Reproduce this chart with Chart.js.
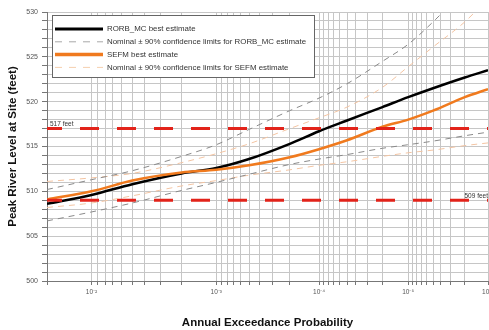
<!DOCTYPE html>
<html>
<head>
<meta charset="utf-8">
<script src="https://cdn.jsdelivr.net/npm/chart.js@4.4.1/dist/chart.umd.min.js"></script>
<style>
  html, body { margin: 0; padding: 0; background: #fff; }
</style>
</head>
<body>
<canvas id="chartAep" width="489" height="330"></canvas>
<script>
// annual exceedance probabilities where the curves were read
const aep = [0.02, 0.01, 0.005, 0.002, 0.001, 5e-4, 2e-4, 1e-4, 5e-5, 2e-5, 1e-5, 5e-6, 2e-6, 1e-6];

// peak river level (feet)
const rorbBest  = [508.6, 509.6, 510.8, 512.0, 512.6, 513.6, 515.3, 516.7, 517.9, 519.4, 520.5, 521.5, 522.7, 523.5];
const rorbUpper = [510.2, 511.3, 512.3, 513.9, 515.2, 516.9, 519.0, 520.4, 522.0, 524.5, 526.4, 528.9, 532.5, 535.0];
const rorbLower = [506.7, 507.7, 508.7, 510.1, 511.0, 511.9, 513.0, 513.6, 514.1, 514.8, 515.2, 515.6, 516.2, 516.6];
const sefmBest  = [509.1, 510.0, 511.2, 512.1, 512.4, 512.9, 513.8, 514.7, 515.7, 517.2, 518.0, 519.0, 520.5, 521.4];
const sefmUpper = [511.1, 511.5, 512.0, 513.2, 514.2, 515.3, 517.0, 518.2, 519.4, 521.6, 523.9, 526.1, 528.9, 531.5];
const sefmLower = [508.2, 508.7, 509.5, 510.6, 511.2, 511.8, 512.4, 512.9, 513.3, 513.9, 514.3, 514.6, 515.1, 515.4];

const refLevels = [517, 509];
const refLabels = ['517 feet', '509 feet'];

const decades = [1e-2, 1e-3, 1e-4, 1e-5, 1e-6];
const decadeLabels = ['10\u207B\u00B2', '10\u207B\u00B3', '10\u207B\u2074', '10\u207B\u2075', '10\u207B\u2076'];
const minorSteps = [9, 8, 7, 6, 5, 4, 3, 2];

const legendItems = [
  { text: 'RORB_MC best estimate', color: '#000000', width: 3, dash: [] },
  { text: 'Nominal \u00B1 90% confidence limits for RORB_MC estimate', color: '#a8a8a8', width: 1, dash: [7, 7] },
  { text: 'SEFM best estimate', color: '#f07a1e', width: 3.5, dash: [] },
  { text: 'Nominal \u00B1 90% confidence limits for SEFM estimate', color: '#f5cfae', width: 1, dash: [7, 7] }
];

// normal probability paper: position follows the standard normal quantile
function invNorm(p) {
  const c = [-7.784894002430293e-03, -3.223964580411365e-01, -2.400758277161838e+00,
             -2.549732539343734e+00, 4.374664141464968e+00, 2.938163982698783e+00];
  const d = [7.784695709041462e-03, 3.224671290700398e-01, 2.445134137142996e+00, 3.754408661907416e+00];
  const q = Math.sqrt(-2 * Math.log(p));
  return (((((c[0]*q+c[1])*q+c[2])*q+c[3])*q+c[4])*q+c[5]) / ((((d[0]*q+d[1])*q+d[2])*q+d[3])*q+1);
}
const upperZ = p => -invNorm(p);

class ProbabilityScale extends Chart.Scale {
  static id = 'probability';
  static defaults = {};

  determineDataLimits() {
    this.min = this.options.min;
    this.max = this.options.max;
  }
  buildTicks() {
    const ticks = [{ value: this.min }];
    decades.forEach((d, i) => {
      ticks.push({ value: d, major: true });
      if (i < decades.length - 1) minorSteps.forEach(m => ticks.push({ value: m * d / 10 }));
    });
    return ticks;
  }
  configure() {
    super.configure();
    this._zStart = upperZ(this.min);
    this._zEnd = upperZ(this.max);
  }
  getLabelForValue(v) { return String(v); }
  getPixelForValue(v) {
    return this.getPixelForDecimal((upperZ(v) - this._zStart) / (this._zEnd - this._zStart));
  }
  getValueForPixel(px) {
    const z = this._zStart + this.getDecimalForPixel(px) * (this._zEnd - this._zStart);
    let lo = -8, hi = 0;
    for (let i = 0; i < 50; i++) {
      const mid = (lo + hi) / 2;
      if (upperZ(Math.pow(10, mid)) > z) lo = mid; else hi = mid;
    }
    return Math.pow(10, (lo + hi) / 2);
  }
}
Chart.register(ProbabilityScale);

const pts = ys => aep.map((p, i) => ({ x: p, y: ys[i] }));
const flat = y => [{ x: aep[0], y }, { x: aep[aep.length - 1], y }];

const legendBox = {
  id: 'legendBox',
  afterDatasetsDraw(chart) {
    const ctx = chart.ctx;
    ctx.save();
    ctx.fillStyle = '#ffffff';
    ctx.fillRect(52.5, 15.5, 262, 62);
    ctx.strokeStyle = '#666';
    ctx.lineWidth = 1;
    ctx.strokeRect(52.5, 15.5, 262, 62);
    ctx.font = '7.9px "Liberation Sans", Arial, sans-serif';
    ctx.textBaseline = 'middle';
    legendItems.forEach((it, i) => {
      const y = 29 + i * 12.8;
      ctx.beginPath();
      ctx.setLineDash(it.dash);
      ctx.strokeStyle = it.color;
      ctx.lineWidth = it.width;
      ctx.moveTo(55, y);
      ctx.lineTo(103, y);
      ctx.stroke();
      ctx.setLineDash([]);
      ctx.fillStyle = '#333';
      ctx.fillText(it.text, 107, y);
    });
    ctx.restore();
  }
};

const refText = {
  id: 'refText',
  afterDatasetsDraw(chart) {
    const ctx = chart.ctx;
    const yS = chart.scales.y;
    ctx.save();
    ctx.font = '6.5px "Liberation Sans", Arial, sans-serif';
    ctx.fillStyle = '#333';
    ctx.textBaseline = 'bottom';
    ctx.textAlign = 'left';
    ctx.fillText(refLabels[0], 50, yS.getPixelForValue(refLevels[0]) - 1);
    ctx.textAlign = 'right';
    ctx.fillText(refLabels[1], 488, yS.getPixelForValue(refLevels[1]) - 1);
    ctx.restore();
  }
};

const ctx = document.getElementById('chartAep').getContext('2d');
new Chart(ctx, {
  type: 'line',
  data: {
    datasets: [
      { data: pts(rorbUpper), borderColor: '#8a8a8a', borderWidth: 1, borderDash: [6, 5] },
      { data: pts(rorbLower), borderColor: '#8a8a8a', borderWidth: 1, borderDash: [6, 5] },
      { data: pts(sefmUpper), borderColor: '#f3c4a2', borderWidth: 1, borderDash: [6, 5] },
      { data: pts(sefmLower), borderColor: '#f3c4a2', borderWidth: 1, borderDash: [6, 5] },
      { data: flat(refLevels[0]), borderColor: '#e2231a', borderWidth: 3, borderDash: [19, 18], borderDashOffset: 4 },
      { data: flat(refLevels[1]), borderColor: '#e2231a', borderWidth: 3, borderDash: [19, 18], borderDashOffset: 4 },
      { data: pts(sefmBest), borderColor: '#f07a1e', borderWidth: 2.5 },
      { data: pts(rorbBest), borderColor: '#000000', borderWidth: 2.5 }
    ]
  },
  options: {
    responsive: false,
    animation: false,
    layout: { padding: { top: 12, right: 1, left: 0, bottom: 0 } },
    elements: {
      point: { radius: 0 },
      line: { cubicInterpolationMode: 'monotone', fill: false }
    },
    scales: {
      x: {
        type: 'probability',
        min: 0.02,
        max: 1e-6,
        grid: { color: '#c6c6c6', tickColor: '#777', tickLength: 4 },
        border: { color: '#777' },
        ticks: {
          autoSkip: false,
          maxRotation: 0,
          padding: 3,
          color: '#555',
          font: { family: '"Liberation Sans", Arial, sans-serif', size: 6.5 },
          callback(value, i, ticks) {
            const k = decades.findIndex(d => Math.abs(Math.log10(value / d)) < 1e-6);
            return ticks[i].major && k >= 0 ? decadeLabels[k] : '';
          }
        },
        title: {
          display: true,
          text: 'Annual Exceedance Probability',
          color: '#111',
          font: { family: '"Liberation Sans", Arial, sans-serif', size: 11.5, weight: 'bold' },
          padding: { top: 0, bottom: 0 }
        },
        afterFit(scale) { scale.height = 49; scale.paddingLeft = 0; scale.paddingRight = 0; }
      },
      y: {
        min: 500,
        max: 530,
        grid: { color: '#c6c6c6', tickColor: '#777', tickLength: 5 },
        border: { color: '#777' },
        ticks: {
          stepSize: 1,
          autoSkip: false,
          padding: 4,
          color: '#555',
          font: { family: '"Liberation Sans", Arial, sans-serif', size: 7 },
          callback: v => (v % 5 === 0 ? String(v) : '')
        },
        title: {
          display: true,
          text: 'Peak River Level at Site (feet)',
          color: '#111',
          font: { family: '"Liberation Sans", Arial, sans-serif', size: 11.5, weight: 'bold' },
          padding: { top: 6, bottom: 0 }
        },
        afterFit(scale) { scale.width = 47; scale.paddingTop = 0; scale.paddingBottom = 0; }
      }
    },
    plugins: {
      legend: { display: false },
      tooltip: { enabled: false }
    }
  },
  plugins: [legendBox, refText]
});
</script>
</body>
</html>
